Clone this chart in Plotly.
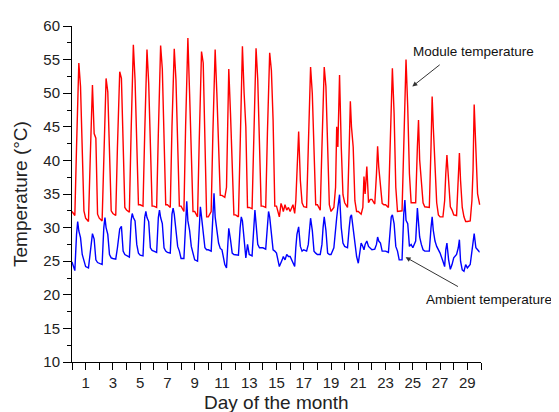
import plotly.graph_objects as go

# Sampling hours within each day (time of day of each reading)
hours = [0, 5, 8, 10, 12, 15, 18, 21]
days = list(range(30))

# Module temperature (°C), one row per day, values at the hours above
module_temp = [
    [32.4, 31.8, 42.0, 50.0, 54.5, 51.0, 42.0, 32.5],
    [31.4, 30.9, 40.0, 47.0, 51.2, 44.0, 43.3, 32.0],
    [31.4, 31.0, 41.0, 49.0, 52.2, 50.2, 42.5, 32.5],
    [32.1, 31.8, 42.0, 50.0, 53.2, 52.2, 42.0, 33.0],
    [32.6, 32.3, 44.0, 53.0, 57.2, 52.0, 44.0, 33.4],
    [33.4, 33.2, 44.0, 53.0, 56.5, 51.5, 43.0, 33.2],
    [33.2, 33.0, 44.0, 53.0, 57.1, 53.6, 43.0, 33.4],
    [33.4, 33.0, 45.0, 53.0, 56.6, 52.0, 43.0, 33.2],
    [33.2, 32.4, 45.0, 54.0, 58.2, 50.0, 42.0, 32.4],
    [32.4, 31.6, 43.0, 52.0, 56.2, 54.5, 44.0, 31.6],
    [31.6, 32.4, 44.0, 53.0, 56.5, 50.0, 42.0, 34.8],
    [34.8, 34.5, 36.0, 44.0, 53.6, 47.0, 38.0, 31.9],
    [31.9, 31.6, 42.0, 50.0, 57.0, 50.0, 45.0, 33.0],
    [33.0, 32.8, 44.0, 52.0, 56.7, 52.0, 43.0, 33.2],
    [33.2, 33.0, 44.0, 52.0, 56.0, 53.4, 46.0, 33.2],
    [33.2, 31.6, 33.6, 33.1, 32.4, 33.4, 32.6, 33.0],
    [32.4, 33.4, 32.1, 34.0, 39.0, 44.3, 37.0, 33.7],
    [33.1, 33.0, 42.0, 50.0, 53.9, 50.0, 40.0, 33.4],
    [33.4, 32.6, 42.0, 50.0, 53.9, 51.0, 42.0, 33.4],
    [32.4, 33.0, 36.0, 45.0, 42.0, 52.7, 42.0, 34.9],
    [33.7, 33.0, 42.0, 48.8, 45.0, 42.0, 34.0, 32.4],
    [32.4, 32.0, 33.0, 37.6, 35.0, 39.1, 33.7, 34.2],
    [34.2, 33.5, 38.0, 42.1, 39.0, 36.0, 33.6, 33.4],
    [33.4, 33.0, 42.0, 50.0, 53.7, 47.0, 36.0, 32.4],
    [32.4, 32.5, 42.0, 51.0, 55.0, 48.0, 38.0, 33.7],
    [33.7, 33.7, 42.0, 46.0, 40.1, 37.0, 33.7, 33.1],
    [33.1, 33.0, 42.0, 49.5, 45.0, 38.0, 33.7, 31.9],
    [31.6, 31.6, 34.0, 38.0, 40.8, 37.0, 33.1, 32.6],
    [31.9, 31.8, 37.0, 41.1, 37.0, 33.0, 31.6, 30.9],
    [30.9, 31.0, 34.0, 38.6, 48.3, 42.0, 35.0, 33.7],
]

# Ambient temperature (°C), one row per day, values at the hours above
ambient_temp = [
    [24.9, 23.6, 29.0, 30.9, 29.5, 28.5, 26.0, 25.0],
    [24.2, 24.0, 26.0, 28.0, 29.1, 28.3, 25.2, 24.8],
    [24.7, 24.5, 30.0, 31.5, 30.0, 29.0, 26.0, 25.5],
    [25.4, 25.3, 27.0, 28.5, 29.8, 30.2, 26.5, 26.0],
    [25.8, 25.6, 31.0, 32.1, 31.5, 31.0, 27.5, 26.2],
    [25.9, 25.8, 31.5, 32.4, 31.5, 30.9, 27.0, 26.6],
    [26.5, 26.3, 31.5, 32.6, 31.5, 30.6, 27.0, 26.5],
    [26.3, 26.2, 32.0, 32.9, 32.0, 29.6, 27.2, 26.5],
    [25.4, 25.4, 32.0, 33.9, 31.0, 29.6, 27.2, 26.0],
    [25.2, 25.0, 31.0, 33.1, 31.6, 28.7, 27.0, 26.7],
    [26.7, 26.5, 33.0, 35.1, 31.6, 29.5, 27.7, 26.9],
    [26.7, 24.5, 24.0, 27.0, 29.9, 28.2, 26.2, 26.0],
    [26.0, 25.9, 30.0, 31.6, 31.0, 27.7, 25.5, 27.5],
    [26.0, 25.8, 31.0, 32.6, 30.6, 27.5, 27.0, 27.0],
    [27.0, 26.8, 31.0, 32.4, 31.6, 28.5, 26.7, 26.5],
    [26.2, 24.2, 25.0, 25.2, 25.7, 25.2, 26.0, 25.7],
    [25.7, 24.8, 24.2, 27.0, 29.0, 30.1, 27.2, 26.5],
    [26.7, 26.5, 27.5, 29.5, 31.4, 29.6, 26.5, 26.2],
    [26.0, 26.0, 27.5, 30.0, 31.6, 29.6, 26.2, 26.0],
    [26.0, 27.0, 30.6, 31.5, 33.0, 34.9, 30.0, 27.7],
    [27.2, 27.0, 30.0, 31.6, 31.9, 29.6, 27.2, 25.7],
    [24.7, 27.7, 27.2, 26.7, 27.5, 28.0, 27.2, 27.0],
    [26.7, 26.8, 27.5, 28.6, 28.0, 27.7, 26.5, 26.5],
    [26.5, 26.3, 30.0, 31.6, 31.9, 30.6, 27.2, 26.5],
    [25.2, 25.2, 32.0, 34.1, 31.1, 30.6, 27.2, 27.5],
    [27.0, 28.0, 32.9, 30.0, 28.6, 27.5, 26.7, 26.5],
    [26.5, 26.5, 30.0, 31.6, 29.6, 28.0, 27.2, 26.7],
    [26.2, 25.0, 24.2, 26.7, 27.7, 25.2, 23.8, 24.5],
    [25.5, 26.0, 27.0, 28.2, 25.0, 23.7, 23.5, 24.5],
    [24.0, 24.5, 26.4, 27.5, 29.1, 27.0, 26.6, 26.4],
]

# Final reading at the end of the record
end_day = 29.9
module_end = 33.4
ambient_end = 26.4

x_tick_values = list(range(0, 31))
x_tick_labels = [str(d) if d % 2 == 1 else "" for d in x_tick_values]

t = [d + h / 24 for d in days for h in hours] + [end_day]
module = [v for row in module_temp for v in row] + [module_end]
ambient = [v for row in ambient_temp for v in row] + [ambient_end]

FONT = "Liberation Sans, Arial, sans-serif"

fig = go.Figure()
fig.add_trace(go.Scatter(x=t, y=module, mode="lines",
                         line=dict(color="#ff0000", width=1.4),
                         name="Module temperature", showlegend=False))
fig.add_trace(go.Scatter(x=t, y=ambient, mode="lines",
                         line=dict(color="#0000ff", width=1.4),
                         name="Ambient temperature", showlegend=False))

# The page body adds an 8px offset, so the figure is sized to fit the window
fig.update_layout(
    width=551, height=404,
    margin=dict(l=64, r=78, t=18, b=50, autoexpand=False),
    paper_bgcolor="white", plot_bgcolor="white",
    font=dict(family=FONT, color="#222222"),
    showlegend=False,
)

fig.update_xaxes(
    range=[0, 30], automargin=False,
    tickmode="array", tickvals=x_tick_values, ticktext=x_tick_labels,
    ticks="outside", ticklen=7, tickwidth=1, tickcolor="black",
    showline=True, linecolor="black", linewidth=1,
    showgrid=False, zeroline=False,
    tickfont=dict(size=15, family=FONT, color="#222222"),
    title=dict(text=""),
)
fig.update_yaxes(
    range=[10, 60], automargin=False,
    tickmode="linear", tick0=10, dtick=5,
    ticks="outside", ticklen=8, tickwidth=1, tickcolor="black",
    minor=dict(dtick=2.5, ticks="outside", ticklen=4, tickcolor="black", showgrid=False),
    showline=True, linecolor="black", linewidth=1,
    showgrid=False, zeroline=False,
    tickfont=dict(size=15, family=FONT, color="#222222"),
    title=dict(text=""),
)

# Axis titles placed in paper coordinates
fig.add_annotation(x=0.5, y=0, xref="paper", yref="paper", yshift=-40,
                   text="Day of the month", showarrow=False,
                   xanchor="center", yanchor="middle",
                   font=dict(size=19, family=FONT, color="#222222"))
fig.add_annotation(x=0, y=0.5, xref="paper", yref="paper", xshift=-52,
                   text="Temperature (°C)", showarrow=False, textangle=-90,
                   xanchor="center", yanchor="middle",
                   font=dict(size=19, family=FONT, color="#222222"))

# Labels and arrows
fig.add_annotation(x=24.89, y=56.2, xref="x", yref="y", text="Module temperature",
                   showarrow=False, xanchor="left", yanchor="middle",
                   font=dict(size=13.5, family=FONT, color="#111111"))
fig.add_annotation(x=24.96, y=51.0, xref="x", yref="y", ax=27.08, ay=54.4,
                   axref="x", ayref="y", text="", showarrow=True,
                   arrowhead=2, arrowsize=1, arrowwidth=1, arrowcolor="#333333")
fig.add_annotation(x=25.85, y=19.3, xref="x", yref="y", text="Ambient temperature",
                   showarrow=False, xanchor="left", yanchor="middle",
                   font=dict(size=13.5, family=FONT, color="#111111"))
fig.add_annotation(x=24.47, y=25.6, xref="x", yref="y", ax=28.42, ay=21.1,
                   axref="x", ayref="y", text="", showarrow=True,
                   arrowhead=2, arrowsize=1, arrowwidth=1, arrowcolor="#333333")

fig.write_html("out.html")
